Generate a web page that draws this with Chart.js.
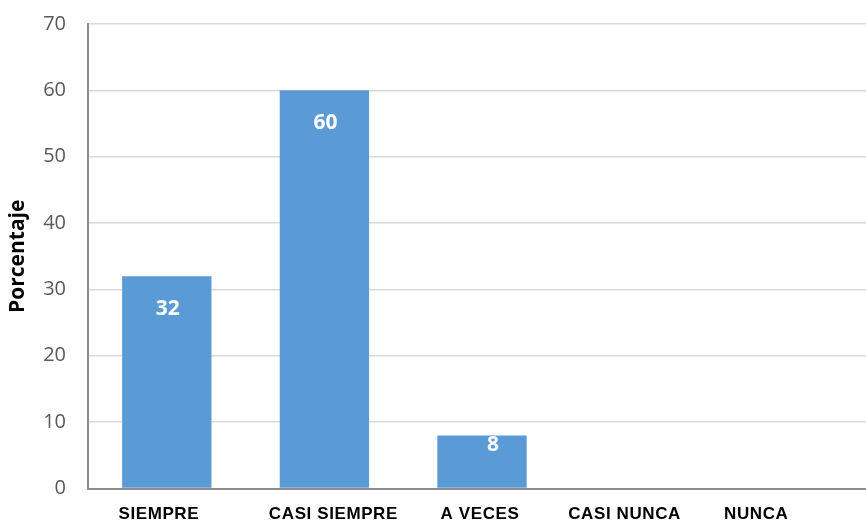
<!DOCTYPE html>
<html>
<head>
<meta charset="utf-8">
<script src="https://cdn.jsdelivr.net/npm/chart.js@4/dist/chart.umd.min.js"></script>
<style>
    html, body { margin: 0; padding: 0; background: #fff; overflow: hidden; }
    #wrap { width: 876px; height: 522px; }
</style>
</head>
<body>
<div id="wrap"><canvas id="barChart" width="876" height="522"></canvas></div>
<script>
const categorias = ['SIEMPRE', 'CASI SIEMPRE', 'A VECES', 'CASI NUNCA', 'NUNCA'];
const porcentajes = [32, 60, 8, 0, 0];
const yTicks = [0, 10, 20, 30, 40, 50, 60, 70];

// x labels are hand-placed a little off the bar centres
const labelShift = [-8, 9, -2, -15, -41];

const xLabels = {
    id: 'xLabels',
    afterDraw(chart) {
        const ctx = chart.ctx;
        const xs = chart.scales.x;
        ctx.save();
        ctx.font = 'bold 17px "Liberation Sans", Arial, sans-serif';
        ctx.letterSpacing = '0.6px';
        ctx.fillStyle = '#000';
        ctx.textAlign = 'center';
        ctx.textBaseline = 'middle';
        categorias.forEach((c, i) => {
            ctx.fillText(c, xs.getPixelForTick(i) + labelShift[i], 514);
        });
        ctx.restore();
    }
};

const barValues = {
    id: 'barValues',
    afterDatasetsDraw(chart) {
        const ctx = chart.ctx;
        const meta = chart.getDatasetMeta(0);
        ctx.save();
        ctx.font = 'bold 21px "Open Sans", sans-serif';
        ctx.fillStyle = '#fff';
        ctx.textAlign = 'center';
        ctx.textBaseline = 'middle';
        meta.data.forEach((bar, i) => {
            const v = porcentajes[i];
            if (!v) return;
            const h = bar.base - bar.y;
            const tall = h > 80;
            ctx.fillText(String(v), bar.x + (tall ? 1 : 11), bar.y + (tall ? 33 : 10));
        });
        ctx.restore();
    }
};

new Chart(document.getElementById('barChart'), {
    type: 'bar',
    data: {
        labels: categorias,
        datasets: [{
            data: porcentajes,
            backgroundColor: '#5b9bd5',
            borderWidth: 0,
            barPercentage: 0.567,
            categoryPercentage: 1
        }]
    },
    options: {
        responsive: false,
        animation: false,
        layout: { padding: { top: 24, left: 0, right: 0, bottom: 0 } },
        plugins: {
            legend: { display: false },
            tooltip: { enabled: false }
        },
        scales: {
            x: {
                grid: { display: false },
                border: { color: '#8c8c8c', width: 2 },
                ticks: { display: false },
                afterFit(scale) { scale.height = 33.5; }
            },
            y: {
                min: 0,
                max: 70,
                afterBuildTicks(scale) { scale.ticks = yTicks.map(v => ({ value: v })); },
                grid: { color: '#d9d9d9', lineWidth: 1.5, drawTicks: false },
                border: { color: '#8c8c8c', width: 2 },
                ticks: {
                    padding: 22,
                    color: '#595959',
                    font: { family: '"Open Sans", sans-serif', size: 20 }
                },
                title: {
                    display: true,
                    text: 'Porcentaje',
                    color: '#000',
                    font: { family: '"Open Sans", sans-serif', size: 21, weight: 'bold' },
                    padding: { top: 5, bottom: 0 }
                },
                afterFit(scale) {
                    scale.width = 88;
                    scale.paddingTop = 0;
                    scale.paddingBottom = 0;
                }
            }
        }
    },
    plugins: [xLabels, barValues]
});
</script>
</body>
</html>
